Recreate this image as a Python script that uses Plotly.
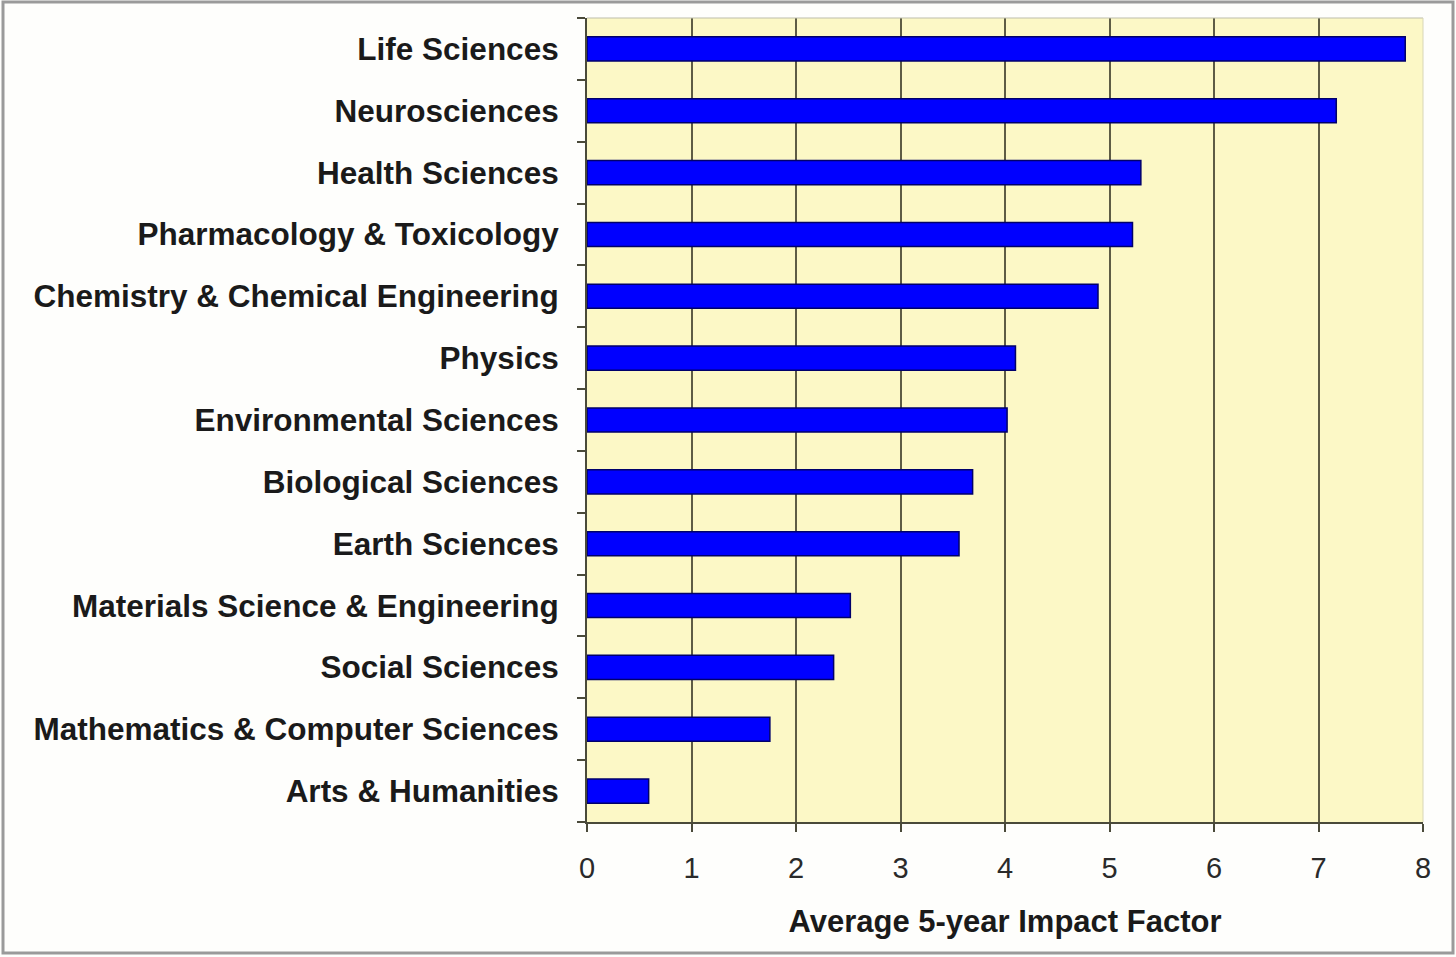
import plotly.graph_objects as go

categories = [
    "Life Sciences", "Neurosciences", "Health Sciences", "Pharmacology & Toxicology",
    "Chemistry & Chemical Engineering", "Physics", "Environmental Sciences",
    "Biological Sciences", "Earth Sciences", "Materials Science & Engineering",
    "Social Sciences", "Mathematics & Computer Sciences", "Arts & Humanities",
]
impact = [7.83, 7.17, 5.30, 5.22, 4.89, 4.10, 4.02, 3.69, 3.56, 2.52, 2.36, 1.75, 0.59]
x_ticks = [0, 1, 2, 3, 4, 5, 6, 7, 8]

W, H = 1456, 957
ml, mr, mt, mb = 587, 33, 18, 135
pw, ph = W - ml - mr, H - mt - mb

fig = go.Figure(go.Bar(
    x=impact, y=categories, orientation="h",
    marker=dict(color="#0000FF", line=dict(color="#00006A", width=1.5)),
    width=0.39,
))

font_family = "Liberation Sans, Arial, sans-serif"
fig.update_layout(
    width=W, height=H,
    margin=dict(l=ml, r=mr, t=mt, b=mb),
    paper_bgcolor="#FEFEFC",
    plot_bgcolor="#FCF8C6",
    showlegend=False,
    xaxis=dict(
        range=[0, 8], tickvals=x_ticks, ticktext=[str(v) for v in x_ticks],
        showgrid=True, gridcolor="#5E5C45", gridwidth=2,
        showline=True, linecolor="#4A4A3A", linewidth=2,
        ticks="outside", ticklen=8, tickwidth=2, tickcolor="#4A4A3A",
        tickfont=dict(family=font_family, size=29, color="#2A2A2A"),
        ticklabelstandoff=11,
        zeroline=False,
        title=dict(text="<b>Average 5-year Impact Factor</b>",
                   font=dict(family=font_family, size=31, color="#1A1A1A"),
                   standoff=28),
    ),
    yaxis=dict(
        categoryorder="array", categoryarray=categories, autorange="reversed",
        tickvals=categories, ticktext=[f"<b>{c}</b>" for c in categories],
        showline=True, linecolor="#4A4A3A", linewidth=2,
        ticks="outside", ticklen=8, tickwidth=1.5, tickcolor="#4A4A3A",
        tickson="boundaries", showgrid=False,
        tickfont=dict(family=font_family, size=31.5, color="#1A1A1A"),
        ticklabelstandoff=20,
    ),
    shapes=[
        dict(type="rect", xref="paper", yref="paper",
             x0=(3 - ml) / pw, x1=(1453 - ml) / pw,
             y0=1 + (mt - 2) / ph, y1=-(953 - mt - ph) / ph,
             line=dict(color="#9A9A9A", width=3), layer="below"),
        dict(type="line", xref="paper", yref="paper", x0=0, x1=1, y0=1, y1=1,
             line=dict(color="#BDBDAA", width=1)),
        dict(type="line", xref="paper", yref="paper", x0=1, x1=1, y0=0, y1=1,
             line=dict(color="#D8D6B8", width=1)),
    ],
)

fig.write_html("out.html", config={"displayModeBar": False},
               post_script="document.body.style.margin='0';document.body.style.overflow='hidden';")
